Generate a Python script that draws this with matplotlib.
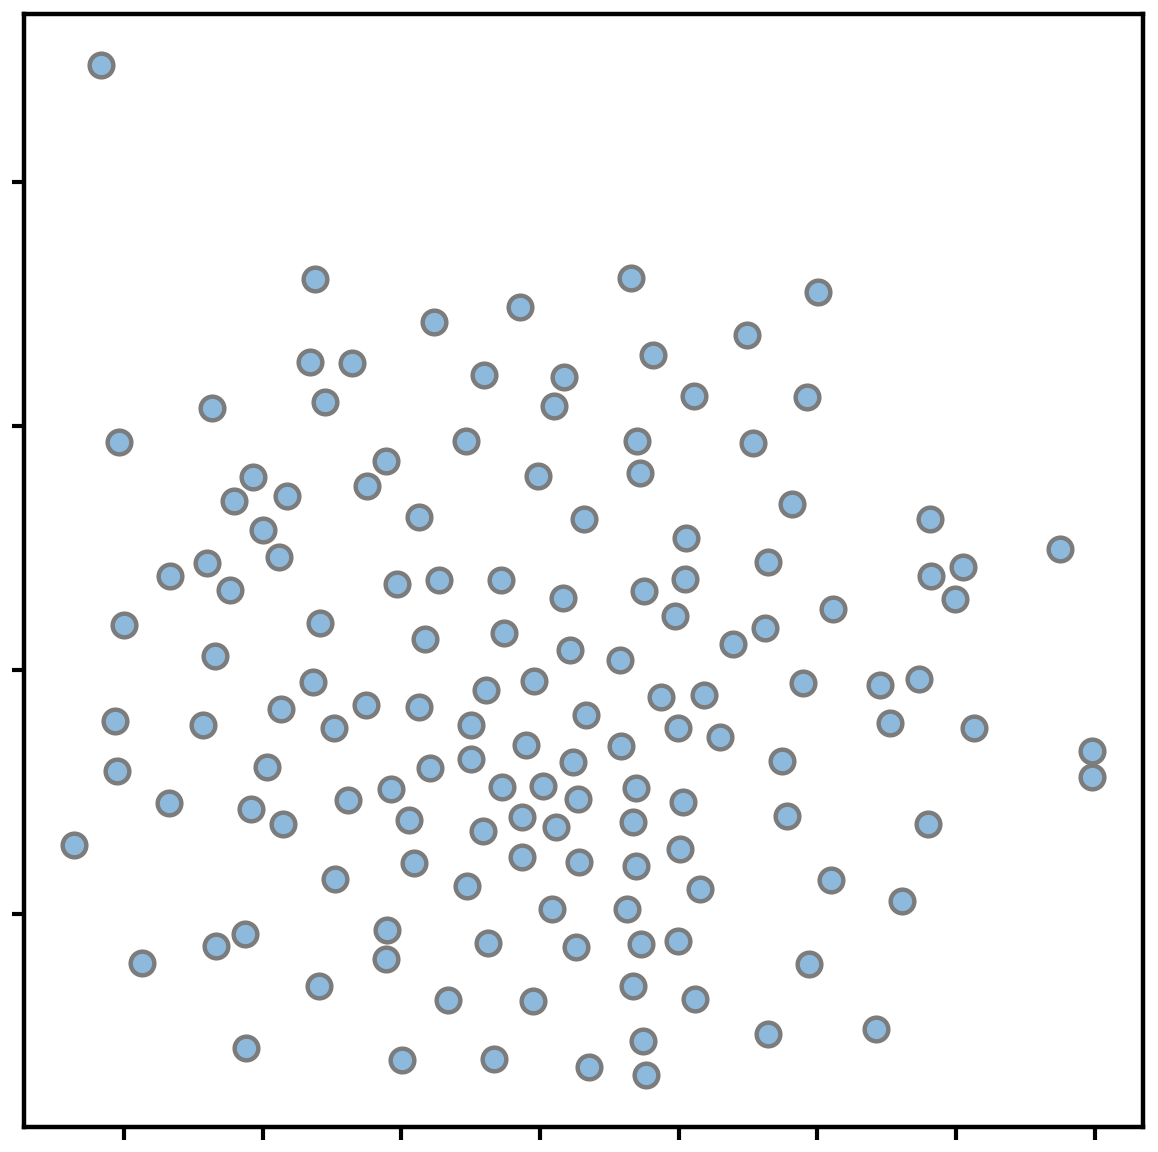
import numpy as np
import matplotlib.pyplot as plt

# point data
x = [-3.165, -1.622, 0.656, 2.004, -0.144, -0.764, 1.492, -1.658, -1.355, 0.815,
     -0.404, 0.173, 1.110, 1.925, -2.365, -1.550, 0.101, -3.035, -0.534, 0.699,
     1.536, -1.110, -2.069, -0.014, 0.721, -1.247, -2.206, -1.824, 1.817, -0.872,
     0.317, 2.812, -1.997, 1.053, 3.749, -1.882, -2.401, 1.644, 3.050, -2.668,
     -2.235, -1.031, -0.728, -0.281, 1.045, 2.819, 0.750, 0.166, 2.992, 2.112,
     0.973, -2.999, -1.586, -0.260, -0.829, 1.622, 1.391, 0.216, 0.577, -2.343,
     -1.637, -0.043, -0.389, 1.896, 2.451, 2.733, 0.872, 1.182, -3.064, -2.430,
     -1.867, -1.254, -0.872, -1.485, -0.497, 0.332, 0.995, 2.523, 3.129, 1.298,
     -0.101, 0.584, 3.980, -3.050, -1.968, -0.793, -0.497, 0.238, 1.745, 3.980,
     -0.274, 0.022, 0.692, -1.074, -2.675, -2.084, -1.384, 0.274, 1.031, -0.944,
     -0.130, -1.853, 0.115, 0.671, 1.781, 2.797, -3.360, -0.411, 1.009, -0.130,
     -0.908, 0.281, 0.692, -1.478, -0.526, 1.154, 2.098, 2.610, 0.087, 0.627,
     -2.127, -1.103, -2.336, -0.375, 0.260, 0.728, 0.995, -2.870, -1.110, 1.939,
     -1.593, 0.671, -0.663, -0.050, 1.118, 1.644, 2.422, -2.120, 0.743, -0.995,
     -0.332, 0.353, 0.764]
y = [2.480, 1.602, 1.607, 1.549, 1.488, 1.426, 1.373, 1.262, 1.258, 1.291,
     1.209, 1.201, 1.123, 1.119, 1.074, 1.098, 1.082, 0.934, 0.939, 0.939,
     0.930, 0.857, 0.791, 0.795, 0.807, 0.754, 0.693, 0.713, 0.680, 0.627,
     0.619, 0.619, 0.574, 0.541, 0.496, 0.463, 0.439, 0.443, 0.422, 0.385,
     0.328, 0.352, 0.369, 0.369, 0.373, 0.385, 0.324, 0.295, 0.291, 0.250,
     0.221, 0.184, 0.193, 0.152, 0.127, 0.172, 0.107, 0.082, 0.041, 0.057,
     -0.049, -0.045, -0.082, -0.053, -0.061, -0.037, -0.111, -0.102, -0.209, -0.225,
     -0.160, -0.143, -0.152, -0.238, -0.225, -0.184, -0.238, -0.217, -0.238, -0.275,
     -0.307, -0.311, -0.332, -0.414, -0.398, -0.402, -0.365, -0.377, -0.373, -0.439,
     -0.480, -0.475, -0.484, -0.488, -0.545, -0.570, -0.533, -0.529, -0.541, -0.615,
     -0.602, -0.631, -0.643, -0.623, -0.598, -0.631, -0.717, -0.660, -0.734, -0.766,
     -0.791, -0.787, -0.803, -0.857, -0.885, -0.898, -0.861, -0.947, -0.980, -0.980,
     -1.082, -1.066, -1.131, -1.119, -1.135, -1.123, -1.111, -1.201, -1.184, -1.205,
     -1.295, -1.295, -1.352, -1.357, -1.348, -1.492, -1.471, -1.549, -1.520, -1.598,
     -1.594, -1.627, -1.660]

xticks = [-3, -2, -1, 0, 1, 2, 3, 4]
yticks = [-1, 0, 1, 2]

fig = plt.figure(figsize=(11.58, 11.52), dpi=100)
ax = fig.add_axes([24 / 1158, 25 / 1152, 1119 / 1158, 1113 / 1152])

ax.scatter(x, y, s=290, c='#8dbadc', edgecolors='#7c7c7c', linewidths=3.2, zorder=3)

ax.set_xlim(-3.720, 4.348)
ax.set_ylim(-1.873, 2.689)
ax.set_xticks(xticks)
ax.set_yticks(yticks)
ax.set_xticklabels([])
ax.set_yticklabels([])
ax.tick_params(length=9, width=3, direction='out')
for sp in ax.spines.values():
    sp.set_linewidth(3.2)

fig.savefig('out.png', dpi=100)
